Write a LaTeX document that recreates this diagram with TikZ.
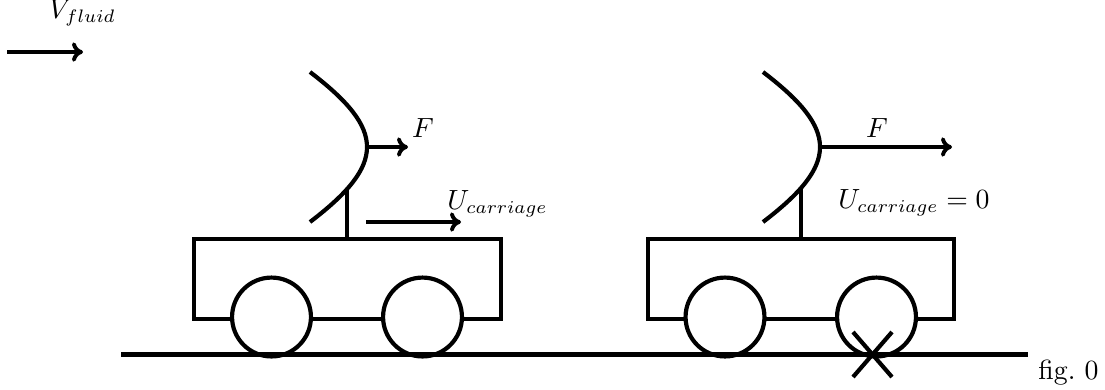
\documentclass[tikz,border=0pt]{standalone}
\usepackage{graphicx}
\usetikzlibrary{arrows.meta}
\newcommand{\subsc}[1]{\scalebox{0.93}{$\scriptstyle #1$}}
\tikzset{
  ln/.style={line width=1.5pt,black},
  arrowline/.style={line width=1.7pt,black,-{Computer Modern Rightarrow[length=4pt,width=7pt,line width=1.4pt]}},
  groundline/.style={line width=1.9pt,black},
  cartbody/.style={ln,draw,rectangle,inner sep=0pt,minimum width=110.3pt,minimum height=28.8pt},
  wheel/.style={ln,draw,fill=white,circle,inner sep=0pt,minimum size=28.4pt},
  lab/.style={inner sep=0pt}
}
\begin{document}
\begin{tikzpicture}[x=0.36pt,y=-0.36pt]
\useasboundingbox (0,0) rectangle (1105,389);
% incoming flow
\coordinate (v0) at (7,52); \coordinate (v1) at (83,52);
\draw[arrowline] (v0) -- (v1);
\node[lab] (vlab) at (82.5,13) {$V_{\subsc{fluid}}$};
% left cart
\node[cartbody] (bodyA) at (347.4,279) {};
\node[wheel] (wA1) at (271.5,317) {};
\node[wheel] (wA2) at (422.5,317) {};
\coordinate (sailAtop) at (310,72);
\coordinate (sailAapex) at (367,147);
\coordinate (sailAbot) at (310,222);
\coordinate (mastAtop) at (347,188);
\coordinate (mastAbot) at (347,241);
\draw[ln] (sailAtop) .. controls (386,130) and (386,164) .. (sailAbot);
\draw[ln] (mastAtop) -- (mastAbot);
\coordinate (fA) at (408,147);
\draw[arrowline] (sailAapex) -- (fA);
\node[lab] (fAlab) at (423,128) {$F$};
\coordinate (uA0) at (366,222); \coordinate (uA1) at (461,222);
\draw[arrowline] (uA0) -- (uA1);
\node[lab] (uAlab) at (497.5,203.5) {$U_{\subsc{carriage}}$};
% right cart
\node[cartbody] (bodyB) at (800.8,279) {};
\node[wheel] (wB1) at (725,317) {};
\node[wheel] (wB2) at (876.5,317) {};
\coordinate (sailBtop) at (763,72);
\coordinate (sailBapex) at (820,147);
\coordinate (sailBbot) at (763,222);
\coordinate (mastBtop) at (801,188);
\coordinate (mastBbot) at (801,241);
\draw[ln] (sailBtop) .. controls (839,130) and (839,164) .. (sailBbot);
\draw[ln] (mastBtop) -- (mastBbot);
\coordinate (fB) at (952,147);
\draw[arrowline] (sailBapex) -- (fB);
\node[lab] (fBlab) at (877,128) {$F$};
\node[lab] (uBlab) at (914,203) {$U_{\subsc{carriage}}=0$};
% ground
\coordinate (g0) at (121,354.7); \coordinate (g1) at (1027.5,354.7);
\draw[groundline] (g0) -- (g1);
% blocked wheel cross
\coordinate (x1) at (853,332); \coordinate (x2) at (892,377);
\coordinate (x3) at (892,332); \coordinate (x4) at (853,377);
\draw[ln] (x1) -- (x2);
\draw[ln] (x3) -- (x4);
\node[lab] (figlab) at (1068.5,373) {fig.~0};
\end{tikzpicture}
\end{document}
